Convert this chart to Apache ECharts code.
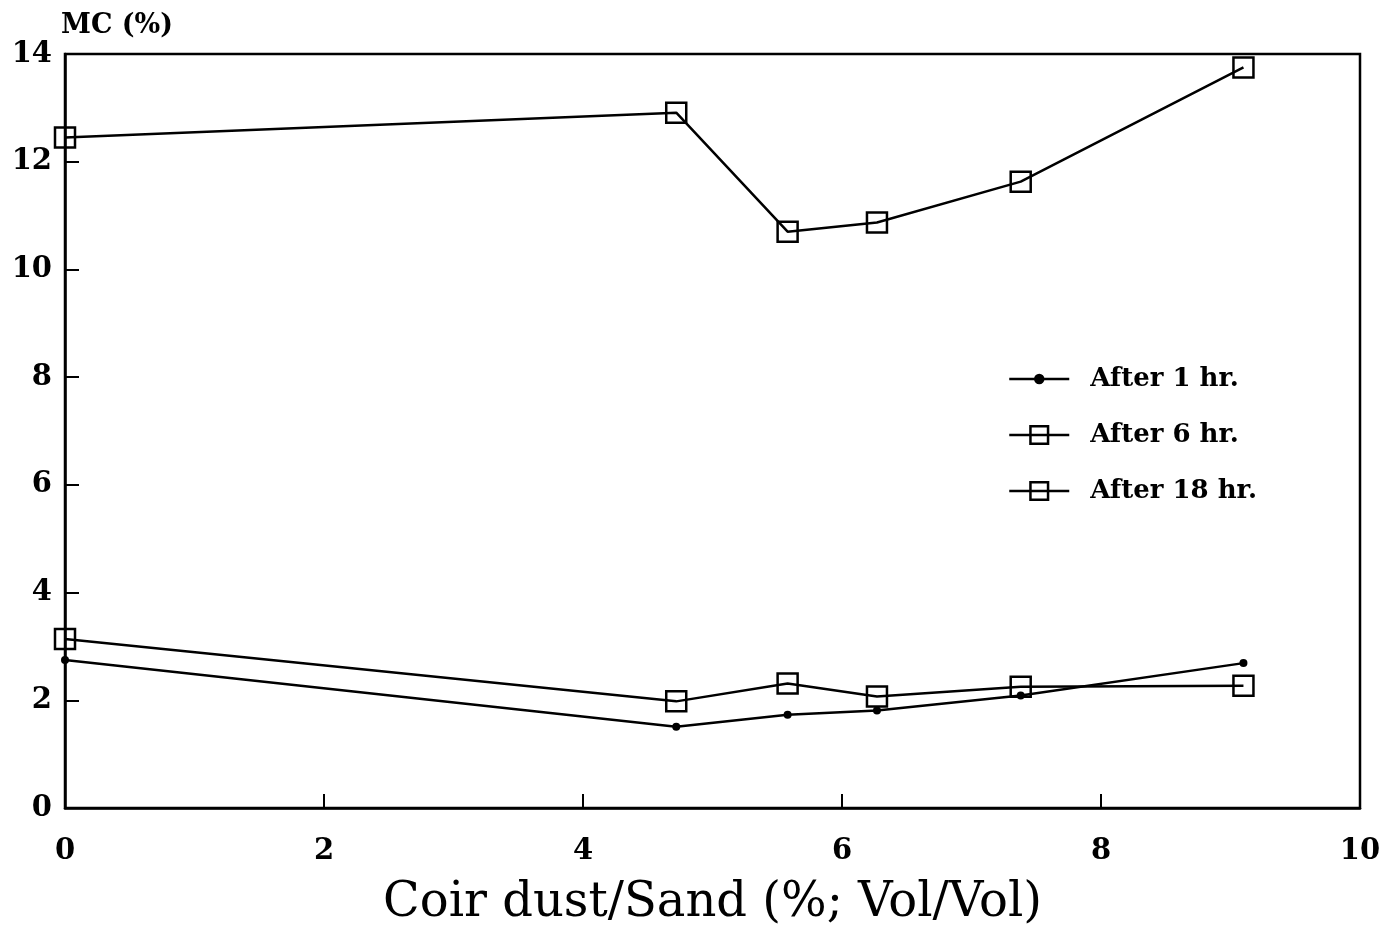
<!DOCTYPE html>
<html><head><meta charset="utf-8">
<script src="https://cdn.jsdelivr.net/npm/echarts@6/dist/echarts.min.js"></script>
<style>html,body{margin:0;padding:0;background:#fff}#c{width:1394px;height:926px}</style>
</head><body><div id="c"></div>
<script>
const xValues = [0, 4.72, 5.58, 6.27, 7.38, 9.10];
const after1hr = [2.75, 1.51, 1.73, 1.81, 2.09, 2.69];
const after6hr = [3.14, 1.98, 2.31, 2.07, 2.25, 2.27];
const after18hr = [12.45, 12.91, 10.70, 10.87, 11.63, 13.75];
const seriesNames = ['After 1 hr.', 'After 6 hr.', 'After 18 hr.'];
const xTitle = 'Coir dust/Sand (%; Vol/Vol)';
const yTitle = 'MC (%)';

const FONT = 'DejaVu Serif';
const pair = v => xValues.map((x, i) => [x, v[i]]);
const chart = echarts.init(document.getElementById('c'), null, {renderer: 'canvas'});

const squareStyle = {color: 'rgba(0,0,0,0)', borderColor: '#000', borderWidth: 2.5};
const dotIcon = 'path://M0 11 L60 11 M34 11 A4 4 0 1 1 26 11 A4 4 0 1 1 34 11 Z';

chart.setOption({
  animation: false,
  backgroundColor: '#fff',
  grid: {left: 65, right: 34, top: 54, bottom: 118, outerBoundsMode: 'none', containLabel: false,
         show: true, borderColor: '#000', borderWidth: 2.5, backgroundColor: 'transparent'},
  xAxis: {
    type: 'value', min: 0, max: 10, interval: 2,
    name: xTitle, nameLocation: 'middle', nameGap: 72,
    nameTextStyle: {fontFamily: FONT, fontSize: 48, color: '#000'},
    axisLine: {show: true, lineStyle: {color: '#000', width: 2.5}},
    axisTick: {show: true, inside: true, length: 14, lineStyle: {color: '#000', width: 2}},
    axisLabel: {margin: 29, fontFamily: FONT, fontWeight: 'bold', fontSize: 29, color: '#000'},
    splitLine: {show: false}
  },
  yAxis: {
    type: 'value', min: 0, max: 14, interval: 2,
    name: yTitle, nameLocation: 'end', nameGap: 15,
    nameTextStyle: {fontFamily: FONT, fontWeight: 'bold', fontSize: 27, color: '#000', align: 'left', padding: [0, 0, 0, -4]},
    axisLine: {show: true, lineStyle: {color: '#000', width: 2.5}},
    axisTick: {show: true, inside: true, length: 14, lineStyle: {color: '#000', width: 2}},
    axisLabel: {margin: 13, fontFamily: FONT, fontWeight: 'bold', fontSize: 29, color: '#000'},
    splitLine: {show: false}
  },
  legend: {
    orient: 'vertical', left: 1003, top: 361, itemWidth: 60, itemHeight: 22, itemGap: 30,
    symbolKeepAspect: true,
    textStyle: {fontFamily: FONT, fontWeight: 'bold', fontSize: 26, color: '#000', padding: [0, 0, 0, 16]},
    data: [
      {name: seriesNames[0], icon: dotIcon, itemStyle: {color: '#000', borderColor: '#000', borderWidth: 2.5}},
      {name: seriesNames[1], itemStyle: squareStyle, lineStyle: {color: '#000', width: 2.5}},
      {name: seriesNames[2], itemStyle: squareStyle, lineStyle: {color: '#000', width: 2.5}}
    ]
  },
  series: [
    {name: seriesNames[0], type: 'line', data: pair(after1hr), symbol: 'circle', symbolSize: 8,
     itemStyle: {color: '#000'}, lineStyle: {color: '#000', width: 2.5}, z: 3},
    {name: seriesNames[1], type: 'line', data: pair(after6hr), symbol: 'rect', symbolSize: 20,
     itemStyle: squareStyle, lineStyle: {color: '#000', width: 2.5}, z: 2},
    {name: seriesNames[2], type: 'line', data: pair(after18hr), symbol: 'rect', symbolSize: 20,
     itemStyle: squareStyle, lineStyle: {color: '#000', width: 2.5}, z: 2}
  ]
});
</script></body></html>
